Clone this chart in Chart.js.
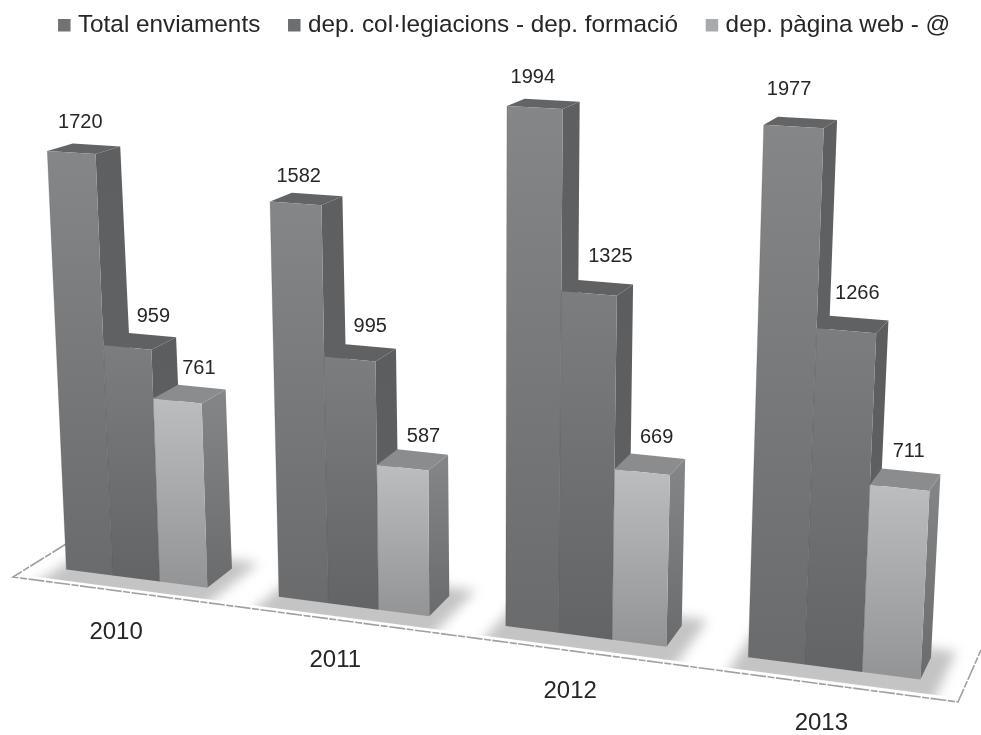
<!DOCTYPE html>
<html>
<head>
<meta charset="utf-8">
<title>Enviaments</title>
<script src="https://cdn.jsdelivr.net/npm/chart.js@4"></script>
<style>
html,body{margin:0;padding:0;background:#fff;}
canvas{display:block;filter:blur(0.55px);}
</style>
</head>
<body>
<canvas id="c" width="981" height="735"></canvas>
<script>
const categories = ['2010', '2011', '2012', '2013'];
const seriesNames = ['Total enviaments', 'dep. col\u00b7legiacions - dep. formaci\u00f3', 'dep. p\u00e0gina web - @'];
const totalEnviaments = [1720, 1582, 1994, 1977];
const depCollegiacions = [959, 995, 1325, 1266];
const depPaginaWeb = [761, 587, 669, 711];

/* Styling per series: legend, front (top/bottom), side (top/bottom), cap */
const legendColors = ['#717274', '#6d6e70', '#a9aaac'];
const frontColors = [['#858688', '#6a6b6d'], ['#7c7d7f', '#636466'], ['#bcbdbf', '#939496']];
const sideColors = [['#5e5f61', '#636466'], ['#5c5d5f', '#606163'], ['#858688', '#6a6b6d']];
const capColors = ['#636466', '#606163', '#8b8c8e'];

/* Camera calibration: [group, series, side(0 left,1 right), atTop(1)/atBase(0), screenX, screenY] */
const frontCal = [
[0,0,0,1,47,151],[0,0,1,1,95,153],[0,0,0,0,67,570],[0,1,0,1,104,346],[0,1,1,1,152,350],
[0,2,0,1,153,399],[0,2,1,1,202,403],[0,2,0,0,159,581],[0,2,1,0,207,587],
[1,0,0,1,270,202],[1,0,1,1,322,205],[1,0,0,0,279,597],[1,1,1,1,376,362],[1,2,1,1,427,470],[1,2,1,0,429,616],
[2,0,0,1,507,106],[2,0,1,1,563,109],[2,0,0,0,506,626],[2,1,1,1,617,296],[2,2,0,1,615,470],[2,2,1,1,670,474],[2,2,1,0,666,647],
[3,0,0,1,764,125],[3,0,1,1,823,128],[3,0,0,0,749,658],[3,1,1,1,877,333],[3,2,0,1,869,486],[3,2,1,1,929,490],[3,2,1,0,921,679]
];
const backCal = [
[0,0,0,1,72,143],[0,0,1,1,121,147],[0,1,1,1,176,338],[0,2,1,1,225,390],[0,2,1,0,231,570],
[1,0,0,1,293,192],[1,0,1,1,343,196],[1,1,0,1,347,345],[1,1,1,1,396,349],[1,2,0,1,398,450],[1,2,1,1,448,455],[1,2,1,0,449,592],
[2,0,0,1,522,98],[2,0,1,1,581,101],[2,1,0,1,579,280],[2,1,1,1,633,284],[2,2,0,1,630,454],[2,2,1,1,684,459],[2,2,1,0,682,625],
[3,0,0,1,778,117],[3,0,1,1,837,120],[3,1,0,1,830,316],[3,1,1,1,887,321],[3,2,0,1,883,469],[3,2,1,1,940,475],[3,2,1,0,932,658]
];
/* Text placement relative to the projected bar top / group base */
const valueNudge = [
 [[9,-30],[3,-26.5],[-2,-29.5],[-4.5,-36.5]],
 [[26,-31],[20.5,-32.5],[21.5,-37],[11,-37.5]],
 [[21.5,-33],[21,-31.5],[14.5,-35],[9,-36]]
];
const tickNudge = [[-20,53.5],[-18,53.5],[-15,55.5],[-12,55.5]];
const floorFrame = [[66,544],[13,577],[958,702],[981,650]];

function solve(A, b) {
  const n = b.length;
  for (let i = 0; i < n; i++) {
    let p = i;
    for (let r = i + 1; r < n; r++) if (Math.abs(A[r][i]) > Math.abs(A[p][i])) p = r;
    [A[i], A[p]] = [A[p], A[i]]; [b[i], b[p]] = [b[p], b[i]];
    for (let r = i + 1; r < n; r++) {
      const f = A[r][i] / A[i][i];
      for (let c = i; c < n; c++) A[r][c] -= f * A[i][c];
      b[r] -= f * b[i];
    }
  }
  const x = new Array(n).fill(0);
  for (let i = n - 1; i >= 0; i--) {
    let s = b[i];
    for (let c = i + 1; c < n; c++) s -= A[i][c] * x[c];
    x[i] = s / A[i][i];
  }
  return x;
}
function fitHomography(pairs) {
  const A = Array.from({length: 8}, () => new Array(8).fill(0));
  const b = new Array(8).fill(0);
  const add = (row, t) => {
    for (let i = 0; i < 8; i++) {
      b[i] += row[i] * t;
      for (let j = 0; j < 8; j++) A[i][j] += row[i] * row[j];
    }
  };
  pairs.forEach(([u, v, sx, sy]) => {
    const a = u / 1000, c = v / 1000, X = sx / 1000, Y = sy / 1000;
    add([a, c, 1, 0, 0, 0, -X * a, -X * c], X);
    add([0, 0, 0, a, c, 1, -Y * a, -Y * c], Y);
  });
  const h = solve(A, b);
  return (u, v) => {
    const a = u / 1000, c = v / 1000;
    const w = h[6] * a + h[7] * c + 1;
    return [1000 * (h[0] * a + h[1] * c + h[2]) / w, 1000 * (h[3] * a + h[4] * c + h[5]) / w];
  };
}

const perspectiveBars = {
  id: 'perspectiveBars',
  beforeDatasetsDraw(chart) {
    const ctx = chart.ctx;
    const bar = (g, s) => chart.getDatasetMeta(s).data[g];
    const edge = (b, side) => b.x + (side ? 1 : -1) * b.width / 2;
    const pairs = cal => cal.map(([g, s, side, top, sx, sy]) => {
      const b = bar(g, s);
      return [edge(b, side), top ? b.y : b.base, sx, sy];
    });
    const H0 = fitHomography(pairs(frontCal));
    const H1 = fitHomography(pairs(backCal));
    const P = (u, v, d) => {
      const a = H0(u, v), c = H1(u, v);
      return [a[0] + (c[0] - a[0]) * d, a[1] + (c[1] - a[1]) * d];
    };
    chart.$project = P;
    const quad = (pts, fill) => {
      ctx.beginPath();
      pts.forEach((p, i) => i ? ctx.lineTo(p[0], p[1]) : ctx.moveTo(p[0], p[1]));
      ctx.closePath();
      ctx.fillStyle = fill;
      ctx.fill();
    };
    const grad = (y0, y1, cols) => {
      const g = ctx.createLinearGradient(0, y0, 0, y1);
      g.addColorStop(0, cols[0]); g.addColorStop(1, cols[1]);
      return g;
    };

    /* floor shadows */
    ctx.save();
    ctx.beginPath();
    ctx.moveTo(15, 574); ctx.lineTo(958, 698); ctx.lineTo(985, 640); ctx.lineTo(985, 500); ctx.lineTo(15, 500);
    ctx.closePath();
    ctx.clip();
    ctx.filter = 'blur(6px)';
    categories.forEach((_, g) => {
      const a = bar(g, 0), c = bar(g, chart.data.datasets.length - 1);
      const uL = edge(a, 0) - 10, uR = edge(c, 1) + 20, v = a.base;
      quad([P(uL, v, -1.0), P(uR, v, -1.0), P(uR, v, 1.4), P(uL, v, 1.4)], '#c4c4c4');
    });
    ctx.restore();

    /* floor outline */
    ctx.save();
    ctx.beginPath();
    floorFrame.forEach((p, i) => i ? ctx.lineTo(p[0], p[1]) : ctx.moveTo(p[0], p[1]));
    ctx.strokeStyle = '#a0a0a0';
    ctx.lineWidth = 1.6;
    ctx.setLineDash([16, 1.5, 7, 1.5]);
    ctx.stroke();
    ctx.restore();

    /* bars, painted back to front */
    categories.forEach((_, g) => {
      chart.data.datasets.forEach((ds, s) => {
        const b = bar(g, s);
        const uL = edge(b, 0), uR = edge(b, 1), vT = b.y, vB = b.base;
        const fTL = P(uL, vT, 0), fTR = P(uR, vT, 0), fBL = P(uL, vB, 0), fBR = P(uR, vB, 0);
        const bTL = P(uL, vT, 1), bTR = P(uR, vT, 1), bBR = P(uR, vB, 1);
        quad([fTR, bTR, bBR, fBR], grad(bTR[1], fBR[1], sideColors[s]));
        quad([fTL, bTL, bTR, fTR], capColors[s]);
        quad([fTL, fTR, fBR, fBL], grad(fTL[1], fBR[1], frontColors[s]));
        ctx.save();
        ctx.beginPath();
        ctx.moveTo(fBL[0], fBL[1]); ctx.lineTo(fTL[0], fTL[1]);
        ctx.strokeStyle = 'rgba(60,60,62,0.2)';
        ctx.lineWidth = 1;
        ctx.stroke();
        ctx.restore();
      });
    });
    return false;
  },
  afterDraw(chart) {
    const ctx = chart.ctx, P = chart.$project;
    if (!P) return;
    ctx.save();
    ctx.textAlign = 'center';
    ctx.textBaseline = 'middle';
    ctx.fillStyle = '#262626';
    ctx.font = '20px "Liberation Sans", Arial, sans-serif';
    chart.data.datasets.forEach((ds, s) => {
      chart.getDatasetMeta(s).data.forEach((b, g) => {
        const p = P(b.x, b.y, 0), n = valueNudge[s][g];
        ctx.fillText(String(ds.data[g]), p[0] + n[0], p[1] + n[1]);
      });
    });
    ctx.font = '24px "Liberation Sans", Arial, sans-serif';
    const labels = chart.scales.x.getLabels();
    labels.forEach((label, g) => {
      const b = chart.getDatasetMeta(1).data[g];
      const p = P(chart.scales.x.getPixelForTick(g), b.base, 0), n = tickNudge[g];
      ctx.fillText(label, p[0] + n[0], p[1] + n[1]);
    });
    ctx.restore();
  }
};

new Chart(document.getElementById('c'), {
  type: 'bar',
  data: {
    labels: categories,
    datasets: [
      {label: seriesNames[0], data: totalEnviaments, backgroundColor: legendColors[0], borderWidth: 0},
      {label: seriesNames[1], data: depCollegiacions, backgroundColor: legendColors[1], borderWidth: 0},
      {label: seriesNames[2], data: depPaginaWeb, backgroundColor: legendColors[2], borderWidth: 0}
    ]
  },
  options: {
    responsive: false,
    animation: false,
    layout: {padding: {left: 12, right: -20, top: -19.5, bottom: 0}},
    datasets: {bar: {categoryPercentage: 0.67, barPercentage: 1}},
    scales: {
      x: {display: true, grid: {display: false}, border: {display: false}, ticks: {display: false}},
      y: {display: false, min: 0, max: 2200}
    },
    plugins: {
      tooltip: {enabled: false},
      legend: {
        position: 'top',
        labels: {
          usePointStyle: true,
          pointStyle: 'rect',
          boxHeight: 12.5,
          boxWidth: 3,
          padding: 32.5,
          color: '#262626',
          font: {family: '"Liberation Sans", Arial, sans-serif', size: 24.3}
        }
      }
    }
  },
  plugins: [perspectiveBars]
});
</script>
</body>
</html>
